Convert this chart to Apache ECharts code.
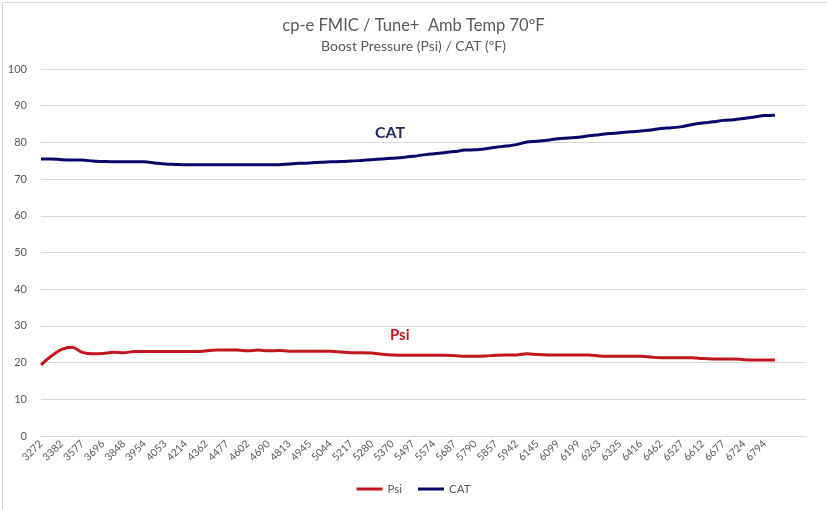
<!DOCTYPE html>
<html>
<head>
<meta charset="utf-8">
<script src="https://cdn.jsdelivr.net/npm/echarts@6/dist/echarts.min.js"></script>
<style>html,body{margin:0;padding:0;background:#fff}#c{width:827px;height:510px}</style>
</head>
<body>
<div id="c"></div>
<script>
// RPM categories (72 readings; only every other label is visible in the reference)
const rpm = [3272,3330,3382,3470,3577,3640,3696,3770,3848,3900,3954,4000,4053,4130,4214,4290,4362,4420,4477,4540,4602,4650,4690,4750,4813,4880,4945,4990,5044,5130,5217,5250,5280,5320,5370,5430,5497,5540,5574,5630,5687,5740,5790,5820,5857,5900,5942,6040,6145,6120,6099,6150,6199,6230,6263,6290,6325,6370,6416,6440,6462,6490,6527,6570,6612,6640,6677,6700,6724,6760,6794,6820];
const padCats = ['', '', ''];
const psi = [19.4,21.8,23.6,24.2,22.8,22.4,22.5,22.8,22.7,23.0,23.0,23.0,23.0,23.0,23.0,23.0,23.2,23.4,23.4,23.4,23.2,23.4,23.2,23.3,23.1,23.1,23.1,23.1,23.1,22.9,22.7,22.7,22.6,22.3,22.1,22.0,22.0,22.0,22.0,22.0,21.9,21.7,21.7,21.8,22.0,22.1,22.1,22.4,22.2,22.1,22.1,22.1,22.1,22.1,21.8,21.7,21.7,21.7,21.7,21.5,21.3,21.3,21.3,21.3,21.1,21.0,21.0,21.0,20.8,20.7,20.7,20.7];
const cat = [75.5,75.5,75.3,75.2,75.2,74.9,74.8,74.7,74.7,74.7,74.7,74.4,74.1,74.0,73.9,73.9,73.9,73.9,73.9,73.9,73.9,73.9,73.9,73.9,74.1,74.3,74.4,74.6,74.7,74.8,74.9,75.1,75.3,75.5,75.7,75.9,76.2,76.6,76.9,77.2,77.5,77.9,78.0,78.3,78.7,79.0,79.4,80.1,80.3,80.6,81.0,81.2,81.4,81.8,82.1,82.4,82.6,82.9,83.1,83.4,83.8,84.0,84.3,84.9,85.3,85.6,86.0,86.2,86.5,86.9,87.3,87.4];
const yTicks = {min: 0, max: 100, interval: 10};
const titleText = 'cp-e FMIC / Tune+  Amb Temp 70ºF';
const subText = 'Boost Pressure (Psi) / CAT (ºF)';

const FONT = 'Lato, "Open Sans", sans-serif';
const GREY = '#595959';
const chart = echarts.init(document.getElementById('c'));
chart.setOption({
  backgroundColor: '#fff',
  animation: false,
  title: {
    text: titleText, subtext: subText, left: 'center', top: 12, itemGap: 5,
    textStyle: {fontFamily: FONT, fontSize: 16.5, fontWeight: 'normal', color: GREY},
    subtextStyle: {fontFamily: FONT, fontSize: 14, color: GREY}
  },
  legend: {
    bottom: 10, left: 'center', itemWidth: 26, itemHeight: 3, itemGap: 16,
    icon: 'rect',
    textStyle: {fontFamily: FONT, fontSize: 11.5, color: GREY},
    data: ['Psi', 'CAT']
  },
  grid: {left: 41, right: 21, top: 69, bottom: 74},
  xAxis: {
    type: 'category', boundaryGap: false,
    data: rpm.map(String).concat(padCats),
    axisLine: {show: true, lineStyle: {color: '#d9d9d9'}},
    axisTick: {show: false},
    axisLabel: {interval: 1, rotate: 45, fontFamily: FONT, fontSize: 10.5, color: GREY, margin: 6}
  },
  yAxis: {
    type: 'value', min: yTicks.min, max: yTicks.max, interval: yTicks.interval,
    axisLine: {show: false}, axisTick: {show: false},
    axisLabel: {fontFamily: FONT, fontSize: 11, color: GREY, margin: 14},
    splitLine: {lineStyle: {color: '#d9d9d9'}}
  },
  series: [
    {name: 'Psi', type: 'line', data: psi, smooth: 0.3, showSymbol: false,
     lineStyle: {width: 3, color: '#c0161e'}, itemStyle: {color: '#c0161e'}},
    {name: 'CAT', type: 'line', data: cat, smooth: 0.3, showSymbol: false,
     lineStyle: {width: 3, color: '#08086a'}, itemStyle: {color: '#08086a'}}
  ],
  graphic: [
    {type: 'rect', left: 0, top: 0, shape: {x: 0.5, y: 0.5, width: 826, height: 509},
     style: {fill: 'none', stroke: '#d9d9d9', lineWidth: 1}, silent: true},
    {type: 'text', left: 375, top: 125, style: {text: 'CAT', font: 'bold 16px ' + FONT, fill: '#1f2a5c'}},
    {type: 'text', left: 390, top: 328, style: {text: 'Psi', font: 'bold 15px ' + FONT, fill: '#c0161e'}}
  ]
});
</script>
</body>
</html>
